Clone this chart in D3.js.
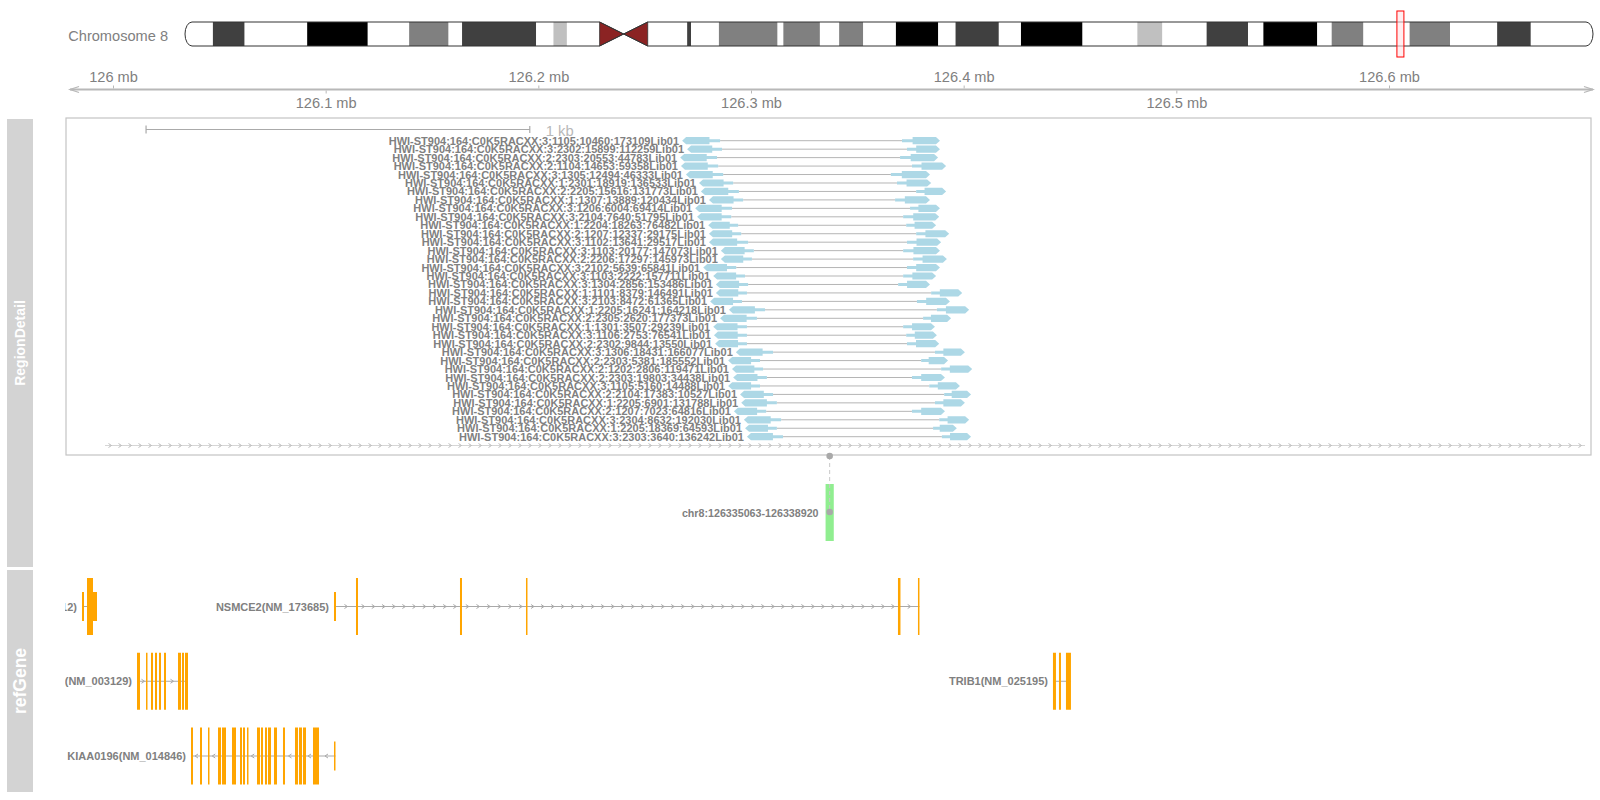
<!DOCTYPE html>
<html><head><meta charset="utf-8">
<script src="https://cdn.jsdelivr.net/npm/d3@7"></script>
<style>
body{margin:0;background:#fff}
svg{display:block}
text{font-family:"Liberation Sans",Arial,Helvetica,sans-serif}
</style>
</head><body>
<svg id="c" width="1600" height="800"></svg>
<script>
// ================= DATA =================
const chromName = "Chromosome 8";
const chromLengthMb = 146.364;
const bandStartMb = [0, 2.9, 6.2, 12.7, 19.0, 23.3, 27.4, 28.8, 36.5, 38.3, 39.7, 43.1, 45.6, 48.1, 52.2, 52.6, 55.5, 61.6, 62.2, 66.0,
  68.0, 70.5, 73.9, 78.3, 80.1, 84.6, 86.9, 93.3, 99.0, 101.6, 106.2, 110.5, 112.1, 117.7, 119.2, 122.5, 127.3, 131.5, 136.4, 139.9];
const bandStain = ["gneg","gpos75","gneg","gpos100","gneg","gpos50","gneg","gpos75","gneg","gpos25","gneg","acen","acen","gneg","gpos75","gneg","gpos50","gneg","gpos50","gneg",
  "gpos50","gneg","gpos100","gneg","gpos75","gneg","gpos100","gneg","gpos25","gneg","gpos75","gneg","gpos100","gneg","gpos50","gneg","gpos50","gneg","gpos75","gneg"];

const viewStart = 125979800, viewEnd = 126695900;          // plotted window (bp)
const axisUpperTicks = [126.0e6, 126.2e6, 126.4e6, 126.6e6];
const axisLowerTicks = [126.1e6, 126.3e6, 126.5e6];

const regionStart = 126335063, regionEnd = 126338920;      // detail region (bp)
const regionLabel = "chr8:126335063-126338920";
const scaleBarStartOffset = 107, scaleBarLength = 1000;     // bp

const readNames = [
"HWI-ST904:164:C0K5RACXX:3:1105:10460:173109Lib01","HWI-ST904:164:C0K5RACXX:3:2302:15899:112259Lib01",
"HWI-ST904:164:C0K5RACXX:2:2303:20553:44783Lib01","HWI-ST904:164:C0K5RACXX:2:1104:14653:59358Lib01",
"HWI-ST904:164:C0K5RACXX:3:1305:12494:46333Lib01","HWI-ST904:164:C0K5RACXX:1:2301:18919:136533Lib01",
"HWI-ST904:164:C0K5RACXX:2:2205:15616:131773Lib01","HWI-ST904:164:C0K5RACXX:1:1307:13889:120434Lib01",
"HWI-ST904:164:C0K5RACXX:3:1206:6004:69414Lib01","HWI-ST904:164:C0K5RACXX:3:2104:7640:51795Lib01",
"HWI-ST904:164:C0K5RACXX:1:2204:18263:76482Lib01","HWI-ST904:164:C0K5RACXX:2:1207:12337:29175Lib01",
"HWI-ST904:164:C0K5RACXX:3:1102:13641:29517Lib01","HWI-ST904:164:C0K5RACXX:3:1103:20177:147073Lib01",
"HWI-ST904:164:C0K5RACXX:2:2206:17297:145973Lib01","HWI-ST904:164:C0K5RACXX:3:2102:5639:65841Lib01",
"HWI-ST904:164:C0K5RACXX:3:1103:2222:157711Lib01","HWI-ST904:164:C0K5RACXX:3:1304:2856:153486Lib01",
"HWI-ST904:164:C0K5RACXX:1:1101:8379:146491Lib01","HWI-ST904:164:C0K5RACXX:3:2103:8472:61365Lib01",
"HWI-ST904:164:C0K5RACXX:1:2205:16241:164218Lib01","HWI-ST904:164:C0K5RACXX:2:2305:2620:177373Lib01",
"HWI-ST904:164:C0K5RACXX:1:1301:3507:29239Lib01","HWI-ST904:164:C0K5RACXX:3:1106:2753:76541Lib01",
"HWI-ST904:164:C0K5RACXX:2:2302:9844:13550Lib01","HWI-ST904:164:C0K5RACXX:3:1306:18431:166077Lib01",
"HWI-ST904:164:C0K5RACXX:2:2303:5381:185552Lib01","HWI-ST904:164:C0K5RACXX:2:1202:2806:119471Lib01",
"HWI-ST904:164:C0K5RACXX:2:2303:19803:34438Lib01","HWI-ST904:164:C0K5RACXX:3:1105:5160:14488Lib01",
"HWI-ST904:164:C0K5RACXX:2:2104:17383:10527Lib01","HWI-ST904:164:C0K5RACXX:1:2205:6901:131788Lib01",
"HWI-ST904:164:C0K5RACXX:2:1207:7023:64816Lib01","HWI-ST904:164:C0K5RACXX:3:2304:8632:192030Lib01",
"HWI-ST904:164:C0K5RACXX:1:2205:18369:64593Lib01","HWI-ST904:164:C0K5RACXX:3:2303:3640:136242Lib01"];
// read coordinates as bp offsets from regionStart
const readLeftStart  = [1504,1517,1499,1501,1514,1548,1553,1574,1538,1543,1572,1574,1574,1605,1605,1559,1585,1592,1592,1577,1626,1603,1585,1587,1590,1644,1624,1634,1637,1624,1655,1658,1639,1665,1668,1673];
const readLeftEnd    = [1603,1608,1595,1598,1611,1637,1652,1663,1634,1632,1650,1658,1676,1691,1686,1645,1668,1676,1673,1660,1720,1699,1673,1673,1673,1741,1707,1715,1725,1707,1741,1751,1723,1762,1751,1767];
const readRightStart = [2077,2090,2072,2103,2048,2064,2114,2059,2098,2080,2088,2114,2090,2080,2106,2090,2080,2067,2153,2116,2168,2132,2080,2088,2090,2163,2127,2179,2103,2148,2187,2163,2103,2174,2158,2181];
const readRightEnd   = [2176,2176,2171,2192,2150,2153,2192,2150,2176,2174,2166,2200,2179,2176,2194,2176,2166,2150,2234,2202,2252,2205,2163,2168,2174,2241,2197,2260,2189,2228,2257,2241,2189,2252,2220,2257];

const geneNames  = ["ZNF572(NM_152412)","NSMCE2(NM_173685)","SQLE(NM_003129)","TRIB1(NM_025195)","KIAA0196(NM_014846)"];
const geneRow    = [0, 0, 1, 1, 2];
const geneStrand = ["+","+","+","+","-"];
const exonsZNF572 = [[125985424,125986364,"utr"],[125987775,125990596,"cds"],[125990596,125992477,"utr"]];
const exonsNSMCE2 = [[126103914,126104855,"utr"],[126114259,126115199,"cds"],[126163159,126164100,"cds"],[126194193,126194898,"cds"],[126369107,126370283,"cds"],[126378511,126379217,"cds"]];
const exonsSQLE = [[126011285,126012695,"cds"],[126015517,126016222,"cds"],[126017868,126018808,"cds"],[126019748,126020689,"cds"],[126021629,126022570,"cds"],[126023980,126024921,"cds"],[126030563,126031974,"cds"],[126032444,126033384,"cds"],[126033854,126035265,"cds"]];
const exonsTRIB1 = [[126441988,126443399,"cds"],[126444809,126445750,"cds"],[126448101,126450452,"cds"]];
const exonsKIAA0196 = [[126036676,126037616,"cds"],[126040907,126041848,"cds"],[126044669,126045374,"cds"],[126049371,126050782,"cds"],[126051252,126053133,"cds"],[126055954,126057835,"cds"],[126059715,126060656,"cds"],[126061126,126062066,"cds"],[126063007,126063712,"cds"],[126067709,126069119,"cds"],[126069590,126070530,"cds"],[126071470,126072411,"cds"],[126072881,126074292,"cds"],[126075702,126077113,"cds"],[126079934,126080874,"cds"],[126085576,126086987,"cds"],[126087457,126088868,"cds"],[126089338,126090749,"cds"],[126094040,126096861,"cds"],[126103914,126104620,"utr"]];
const geneExons = [exonsZNF572, exonsNSMCE2, exonsSQLE, exonsTRIB1, exonsKIAA0196];

const trackTitles = ["RegionDetail", "refGene"];

// ================= DRAWING =================
const svg = d3.select("#c");
const GRAY = "#808080";
const stainColor = {gneg:"#FFFFFF", gpos25:"#C0C0C0", gpos50:"#808080", gpos75:"#404040", gpos100:"#000000", acen:"#8B2323"};

// ---- ideogram ----
const xIdeo = d3.scaleLinear([0, chromLengthMb], [185, 1593]);
const iy0 = 22, iy1 = 46, imid = 34, cap = 7;
const cenL = xIdeo(bandStartMb[bandStain.indexOf("acen")]);
const cenM = xIdeo(bandStartMb[bandStain.lastIndexOf("acen")]);
const cenR = xIdeo(bandStartMb[bandStain.lastIndexOf("acen") + 1]);
const x0 = xIdeo(0), x1 = xIdeo(chromLengthMb);
const pArm = `M${cenL},${iy0} L${x0+cap},${iy0} A${cap},${(iy1-iy0)/2} 0 0 0 ${x0+cap},${iy1} L${cenL},${iy1} Z`;
const qArm = `M${cenR},${iy0} L${x1-cap},${iy0} A${cap},${(iy1-iy0)/2} 0 0 1 ${x1-cap},${iy1} L${cenR},${iy1} Z`;
const defs = svg.append("defs");
defs.append("clipPath").attr("id","armclip").append("path").attr("d", pArm + " " + qArm);
defs.append("clipPath").attr("id","geneclip").append("rect").attr("x",65).attr("y",550).attr("width",1535).attr("height",250);
defs.append("clipPath").attr("id","detclip").append("rect").attr("x",66).attr("y",118).attr("width",1525).attr("height",337);

svg.append("text").attr("x",168).attr("y",40.5).attr("text-anchor","end")
  .attr("font-size",14.6).attr("fill",GRAY).text(chromName);

const bands = bandStartMb.map((s,i)=>({s, e: i < bandStartMb.length-1 ? bandStartMb[i+1] : chromLengthMb, stain: bandStain[i]}));
svg.append("g").attr("clip-path","url(#armclip)")
  .selectAll("rect").data(bands.filter(b=>b.stain!=="acen")).join("rect")
  .attr("x", d=>xIdeo(d.s)).attr("width", d=>xIdeo(d.e)-xIdeo(d.s))
  .attr("y", iy0).attr("height", iy1-iy0).attr("fill", d=>stainColor[d.stain]);
// centromere
svg.append("path").attr("d",`M${cenL},${iy0} L${cenL},${iy1} L${cenM},${imid} Z M${cenR},${iy0} L${cenR},${iy1} L${cenM},${imid} Z`)
  .attr("fill", stainColor.acen).attr("stroke","#333").attr("stroke-width",0.8);
// outline
svg.append("path").attr("d",
  `M${cenL},${iy0} L${x0+cap},${iy0} A${cap},${(iy1-iy0)/2} 0 0 0 ${x0+cap},${iy1} L${cenL},${iy1} L${cenM},${imid} Z` +
  `M${cenR},${iy0} L${x1-cap},${iy0} A${cap},${(iy1-iy0)/2} 0 0 1 ${x1-cap},${iy1} L${cenR},${iy1} L${cenM},${imid} Z`)
  .attr("fill","none").attr("stroke","#333").attr("stroke-width",1);
// current view highlight
const bx0 = xIdeo(viewStart/1e6), bx1 = xIdeo(viewEnd/1e6);
svg.append("rect").attr("x",bx0).attr("y",11).attr("width",Math.max(bx1-bx0,7)).attr("height",46)
  .attr("fill","#FFE3E6").attr("fill-opacity",0.6).attr("stroke","#FF0000").attr("stroke-width",1);

// ---- genome axis ----
const xOut = d3.scaleLinear([126.0e6, 126.6e6], [113, 1389]);
const axY = 89.5, ax0 = xOut(viewStart), ax1 = xOut(viewEnd);
const AXC = "#B8B8B8";
svg.append("line").attr("x1",ax0).attr("x2",ax1).attr("y1",axY).attr("y2",axY).attr("stroke",AXC).attr("stroke-width",2);
svg.append("path").attr("d",`M${ax0+9},${axY-3} L${ax0},${axY} L${ax0+9},${axY+3} M${ax1-9},${axY-3} L${ax1},${axY} L${ax1-9},${axY+3}`)
  .attr("fill","none").attr("stroke",AXC).attr("stroke-width",1.3);
const fmtMb = d => (d/1e6) + " mb";
const gUp = svg.append("g").attr("transform",`translate(0,${axY-1})`)
  .call(d3.axisTop(xOut).tickValues(axisUpperTicks).tickFormat(fmtMb).tickSize(3).tickPadding(3.2));
const gLo = svg.append("g").attr("transform",`translate(0,${axY+1})`)
  .call(d3.axisBottom(xOut).tickValues(axisLowerTicks).tickFormat(fmtMb).tickSize(3).tickPadding(4.6));
[gUp,gLo].forEach(g=>{
  g.select(".domain").remove();
  g.selectAll(".tick line").attr("stroke",AXC);
  g.selectAll(".tick text").attr("fill",GRAY).attr("font-size",14.6)
   .attr("font-family",'"Liberation Sans",Arial,sans-serif');
});

// ---- title panels ----
const panels = [{t:trackTitles[0], y:119, h:448, fs:14}, {t:trackTitles[1], y:570, h:222, fs:17.5}];
svg.selectAll("rect.panel").data(panels).join("rect").attr("class","panel")
  .attr("x",7).attr("width",26).attr("y",d=>d.y).attr("height",d=>d.h).attr("fill","#D3D3D3");
svg.selectAll("text.ptitle").data(panels).join("text").attr("class","ptitle")
  .attr("transform",d=>`translate(${20+ d.fs*0.36},${d.y+d.h/2}) rotate(-90)`)
  .attr("text-anchor","middle").attr("font-size",d=>d.fs).attr("font-weight","bold").attr("fill","#FFFFFF")
  .text(d=>d.t);

// ---- region detail box ----
svg.append("rect").attr("x",66).attr("y",118).attr("width",1525).attr("height",337)
  .attr("fill","#FFFFFF").attr("stroke","#C4C4C4").attr("stroke-width",1.2);
const xDet = d3.scaleLinear([regionStart, regionEnd], [105, 1585]);
const det = svg.append("g").attr("clip-path","url(#detclip)");

// scale bar
const sb0 = xDet(regionStart + scaleBarStartOffset), sb1 = xDet(regionStart + scaleBarStartOffset + scaleBarLength);
const SBC = "#AAAAAA";
det.append("path").attr("d",`M${sb0},129.5 L${sb1},129.5 M${sb0},125.5 L${sb0},133.5 M${sb1},126 L${sb1},133`)
  .attr("stroke",SBC).attr("stroke-width",1.2).attr("fill","none");
det.append("text").attr("x",sb1+16).attr("y",135.5).attr("font-size",14.8).attr("fill","#B8B8B8").text("1 kb");

// reads
const rowY = d3.scalePoint(d3.range(readNames.length), [140.7, 436.7]);
const reads = readNames.map((n,i)=>({n, y:rowY(i),
  ls: xDet(regionStart+readLeftStart[i]), le: xDet(regionStart+readLeftEnd[i]),
  rs: xDet(regionStart+readRightStart[i]), re: xDet(regionStart+readRightEnd[i])}));
const READC = "#ADD8E6";
function readShape(a, b, y, leftPointing){
  const L = b - a, th = 3.6, tn = 1.5;
  if (leftPointing){
    const m = a + L*0.72;
    return `M${a},${y} L${a+4},${y-th} L${m},${y-th} L${m},${y-tn} L${b},${y-tn} L${b},${y+tn} L${m},${y+tn} L${m},${y+th} L${a+4},${y+th} Z`;
  } else {
    const m = b - L*0.72;
    return `M${b},${y} L${b-4},${y-th} L${m},${y-th} L${m},${y-tn} L${a},${y-tn} L${a},${y+tn} L${m},${y+tn} L${m},${y+th} L${b-4},${y+th} Z`;
  }
}
const rg = det.selectAll("g.read").data(reads).join("g").attr("class","read");
rg.append("line").attr("x1",d=>d.le).attr("x2",d=>d.rs).attr("y1",d=>d.y).attr("y2",d=>d.y)
  .attr("stroke","#B5B5B5").attr("stroke-width",1);
rg.append("path").attr("d",d=>readShape(d.ls,d.le,d.y,true)).attr("fill",READC);
rg.append("path").attr("d",d=>readShape(d.rs,d.re,d.y,false)).attr("fill",READC);
rg.append("text").attr("x",d=>d.ls-3).attr("y",d=>d.y+4).attr("text-anchor","end")
  .attr("font-size",11).attr("font-weight","bold").attr("fill",GRAY).text(d=>d.n);

// region gene arrow line at bottom of box
const arrY = 445.5, ar0 = xDet(regionStart), ar1 = xDet(regionEnd);
det.append("line").attr("x1",ar0).attr("x2",ar1).attr("y1",arrY).attr("y2",arrY).attr("stroke","#D6D6D6").attr("stroke-width",1);
det.selectAll("path.chev").data(d3.range(ar0+5, ar1, 10)).join("path").attr("class","chev")
  .attr("d",x=>`M${x-1.5},${arrY-2} L${x+1.5},${arrY} L${x-1.5},${arrY+2}`)
  .attr("fill","none").attr("stroke","#BDBDBD").attr("stroke-width",1);

// ---- region highlight below box ----
const gx0 = xOut(regionStart), gx1 = xOut(regionEnd), gxm = (gx0+gx1)/2;
svg.append("rect").attr("x",gx0).attr("width",gx1-gx0).attr("y",484).attr("height",57).attr("fill","#90EE90");
svg.append("line").attr("x1",gxm).attr("x2",gxm).attr("y1",456).attr("y2",512)
  .attr("stroke","#C8C8C8").attr("stroke-width",1).attr("stroke-dasharray","4,3");
svg.selectAll("circle.pin").data([456, 512]).join("circle").attr("class","pin")
  .attr("cx",gxm).attr("cy",d=>d).attr("r",3.3).attr("fill","#A9A9A9");
svg.append("text").attr("x",gx0-7).attr("y",516.5).attr("text-anchor","end")
  .attr("font-size",10.7).attr("font-weight","bold").attr("fill",GRAY).text(regionLabel);

// ---- refGene ----
const geneY = d3.scalePoint([0,1,2], [606.5, 756]);
const EXC = "#FFA500";
const gg = svg.append("g").attr("clip-path","url(#geneclip)");
geneNames.forEach((name, gi)=>{
  const y = geneY(geneRow[gi]);
  const ex = geneExons[gi];
  const gs = xOut(ex[0][0]), ge = xOut(ex[ex.length-1][1]);
  gg.append("line").attr("x1",gs).attr("x2",ge).attr("y1",y).attr("y2",y).attr("stroke","#A9A9A9").attr("stroke-width",1);
  for (let k=0;k<ex.length-1;k++){
    const a = xOut(ex[k][1]), b = xOut(ex[k+1][0]), w = b-a;
    let pos = [];
    const n = Math.floor(w/10);
    if (n>0) pos = d3.range(n).map(i=>a+(i+0.5)*w/n);
    else if (w>=6) pos = [a+w/2];
    const dir = geneStrand[gi]==="+" ? 1 : -1;
    pos.forEach(x=>{
      gg.append("path").attr("d",`M${x-1.5*dir},${y-2} L${x+1.5*dir},${y} L${x-1.5*dir},${y+2}`)
        .attr("fill","none").attr("stroke","#A9A9A9").attr("stroke-width",1);
    });
  }
  gg.selectAll(null).data(ex).join("rect")
    .attr("x",d=>xOut(d[0])).attr("width",d=>Math.max(xOut(d[1])-xOut(d[0]),1.3))
    .attr("y",d=>d[2]==="cds" ? y-28.5 : y-14.5).attr("height",d=>d[2]==="cds" ? 57 : 29)
    .attr("fill",EXC);
  gg.append("text").attr("x",gs-5).attr("y",y+4).attr("text-anchor","end")
    .attr("font-size",11).attr("font-weight","bold").attr("fill",GRAY).text(name);
});
</script>
</body></html>
